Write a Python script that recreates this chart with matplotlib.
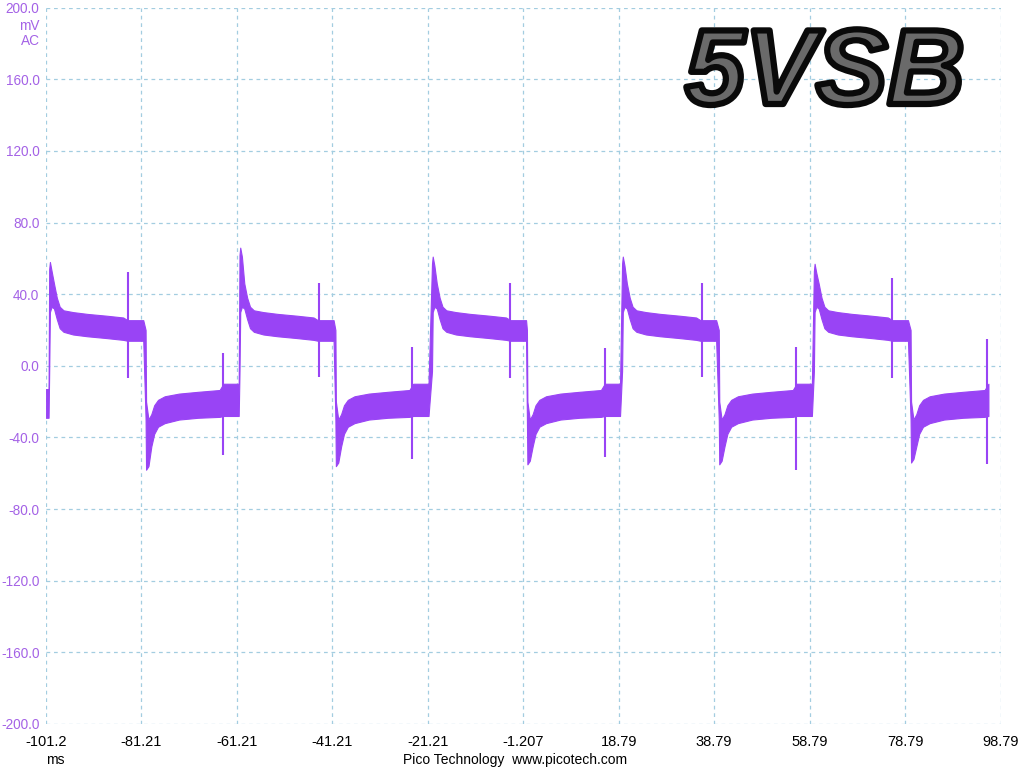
import numpy as np
import matplotlib
matplotlib.use("Agg")
import matplotlib.pyplot as plt
import matplotlib.patheffects as pe

# ---- data (time in ms, level in mV) ----
rise_t = [-100.47, -60.61, -20.30, 19.51, 59.68]
fall_t = [-80.28, -40.53, -0.42, 39.76, 79.93]
peak_mv = [58, 66, 61, 61, 57]
trough_mv = [-58, -56, -55, -55, -54]

pos_spike_t = [-84.05, -43.88, -3.98, 36.19, 76.00]
pos_spike_top = [52.5, 46, 46, 46, 49]
pos_spike_bot = [-6.7, -6.1, -6.7, -6.1, -6.7]

neg_spike_t = [-64.17, -24.48, 15.85, 56.02, 95.98]
neg_spike_top = [7.3, 10.6, 10.0, 10.6, 15.1]
neg_spike_bot = [-49.7, -51.9, -50.8, -58.0, -54.7]

# noise band envelope of the high half, offsets from the rising edge
hi_off = [0.0, 0.15, 0.5, 1.0, 1.6, 2.2, 3.0, 5.0, 8.0, 12.0, 15.5, 16.4, 19.7]
hi_upper = [None, None, None, 46, 38, 33, 31, 30, 29, 28, 27, 25.5, 25.5]
hi_lower = [-3, 30, 33, 32, 26, 21, 19, 17.5, 16.5, 15.5, 14.5, 14, 14]

# noise band envelope of the low half, offsets from the falling edge
lo_off = [0.0, 0.1, 0.6, 1.2, 1.8, 2.6, 4.0, 7.0, 11.0, 15.5, 16.3, 19.5]
lo_upper = [20, -20, -30, -27, -22, -19, -17, -15.5, -14.5, -13.5, -10, -10]
lo_lower = [-30, None, None, -45, -38, -34, -32, -30, -29, -28.5, -28, -28]

start_t = [-101.2, -100.6]
start_upper = [-13, -13]
start_lower = [-29, -29]
end_t = 98.6

x_ticks = [-101.207 + 20 * k for k in range(11)]
x_labels = ["-101.2", "-81.21", "-61.21", "-41.21", "-21.21", "-1.207",
            "18.79", "38.79", "58.79", "78.79", "98.79"]
y_ticks = list(range(-200, 201, 40))

trace_col = "#9944f5"
label_col = "#a462e6"
grid_col = "#a3cde0"

# ---- assemble the envelope ----
tt = list(start_t)
up = list(start_upper)
lo = list(start_lower)
for i in range(5):
    for k, o in enumerate(hi_off):
        u = hi_upper[k]
        if k == 0:
            u = peak_mv[i] - 4
        elif k == 1:
            u = peak_mv[i]
        elif k == 2:
            u = peak_mv[i] - 5
        tt.append(rise_t[i] + o)
        up.append(u)
        lo.append(hi_lower[k])
    for k, o in enumerate(lo_off):
        l = lo_lower[k]
        if k in (1, 2):
            l = trough_mv[i] + (0 if k == 1 else 2)
        t = fall_t[i] + o
        if t > end_t:
            break
        tt.append(t)
        up.append(lo_upper[k])
        lo.append(l)

tt = np.array(tt)
up = np.array(up)
lo = np.array(lo)

fig = plt.figure(figsize=(10.24, 7.68), dpi=100)
ax = fig.add_axes([0.0446, 0.0573, 0.9772 - 0.0446, 0.990 - 0.0573])

ax.fill_between(tt, lo, up, color=trace_col, lw=0.8, edgecolor=trace_col, zorder=3)
ax.vlines(pos_spike_t, pos_spike_bot, pos_spike_top, color=trace_col, lw=1.5, zorder=3)
ax.vlines(neg_spike_t, neg_spike_bot, neg_spike_top, color=trace_col, lw=1.5, zorder=3)

ax.set_xlim(-101.207, 98.793)
ax.set_ylim(-200, 200)
ax.set_xticks(x_ticks)
ax.set_xticklabels(x_labels, fontsize=10.5, family="Liberation Sans")
ax.set_yticks(y_ticks)
ax.set_yticklabels(["%.1f" % v for v in y_ticks], fontsize=9.8, color=label_col,
                   family="Liberation Sans")
ax.tick_params(axis="x", length=0, pad=8)
ax.tick_params(axis="y", length=0, pad=4.5)
for s in ax.spines.values():
    s.set_visible(False)
ax.grid(True, color=grid_col, linestyle=(0, (3, 3)), lw=0.9)
ax.set_axisbelow(True)

fig.text(39.5 / 1024, 1 - 26 / 768, "mV", ha="right", va="center", fontsize=9.8,
         color=label_col, family="Liberation Sans")
fig.text(39.5 / 1024, 1 - 41 / 768, "AC", ha="right", va="center", fontsize=9.8,
         color=label_col, family="Liberation Sans")
fig.text(55 / 1024, 1 - 760 / 768, "ms", ha="center", va="center", fontsize=10,
         family="Liberation Sans")
fig.text(515 / 1024, 1 - 760 / 768, "Pico Technology  www.picotech.com", ha="center",
         va="center", fontsize=10, family="Liberation Sans")

fig.text(825 / 1024, 1 - 104 / 768, "5VSB", ha="center", va="baseline", fontsize=77,
         fontweight="bold", style="italic", family="Liberation Sans", color="#6a6a6a",
         path_effects=[pe.Stroke(linewidth=4.5, foreground="#0a0a0a")])

fig.savefig("out.png", dpi=100)
